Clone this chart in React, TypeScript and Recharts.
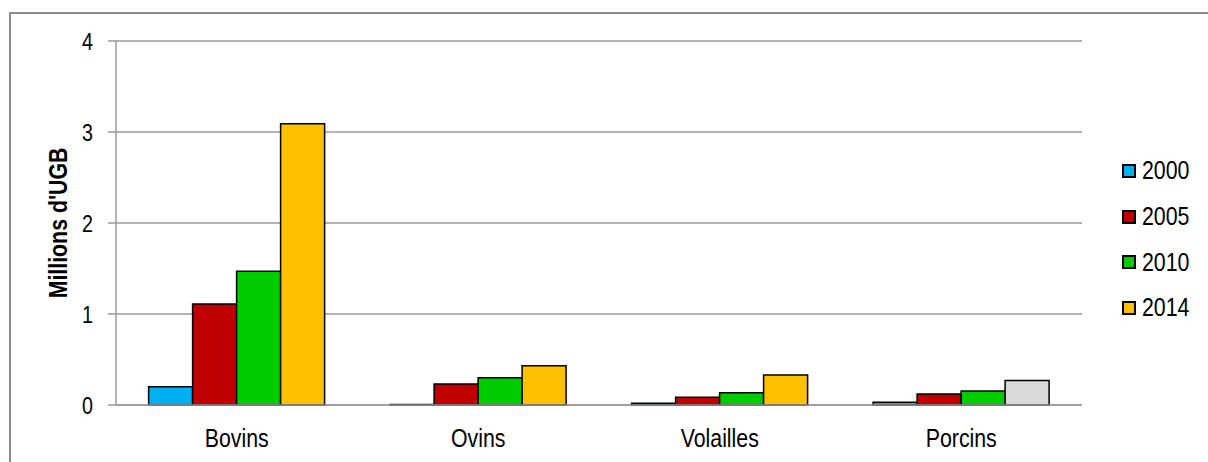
import { Bar, BarChart, CartesianGrid, Cell, Label, Legend, XAxis, YAxis } from 'recharts';

const categories = ['Bovins', 'Ovins', 'Volailles', 'Porcins'];
const years = ['2000', '2005', '2010', '2014'];
const values2000 = [0.2, 0.005, 0.02, 0.03];
const values2005 = [1.11, 0.23, 0.085, 0.12];
const values2010 = [1.47, 0.3, 0.135, 0.155];
const values2014 = [3.09, 0.43, 0.33, 0.27];
const yTicks = [0, 1, 2, 3, 4];

const seriesValues = [values2000, values2005, values2010, values2014];
const colors = ['#00B0F0', '#C00000', '#00CC00', '#FFC000'];
// Porcins 2014 is drawn grey in the original
const overrideColors: Record<string, string> = { 'Porcins-2014': '#D9D9D9' };

const FONT = "'Liberation Sans', Arial, sans-serif";
// no narrow font installed, so squeeze the regular one
const NARROW = 0.82;
const GRID = '#999999';

const data = categories.map((name, i) => {
  const row: Record<string, string | number> = { name };
  years.forEach((y, s) => {
    row[y] = seriesValues[s][i];
  });
  return row;
});

function XTick({ x, y, payload }: any) {
  return (
    <text
      transform={`translate(${x}, ${y + 42}) scale(${NARROW}, 1)`}
      textAnchor="middle"
      style={{ fontFamily: FONT, fontSize: 26, fill: '#000' }}
    >
      {payload.value}
    </text>
  );
}

function YTick({ x, y, payload }: any) {
  return (
    <text
      transform={`translate(${x}, ${y + 9}) scale(${NARROW}, 1)`}
      textAnchor="end"
      style={{ fontFamily: FONT, fontSize: 24, fill: '#000' }}
    >
      {payload.value}
    </text>
  );
}

function YLabel({ viewBox }: any) {
  const cx = 58;
  const cy = viewBox.y + viewBox.height / 2;
  return (
    <text
      transform={`translate(${cx}, ${cy}) rotate(-90) scale(${NARROW}, 1)`}
      textAnchor="middle"
      dominantBaseline="central"
      style={{ fontFamily: FONT, fontSize: 26, fontWeight: 'bold', fill: '#000' }}
    >
      Millions d'UGB
    </text>
  );
}

function LegendBox() {
  return (
    <div style={{ fontFamily: FONT, fontSize: 26, color: '#000' }}>
      {years.map((y, s) => (
        <div key={y} style={{ display: 'flex', alignItems: 'center', height: 45.7 }}>
          <span
            style={{
              display: 'inline-block',
              width: 10,
              height: 10,
              background: colors[s],
              border: '2px solid #000',
              marginRight: 6
            }}
          />
          <span
            style={{
              display: 'inline-block',
              transform: `scaleX(${NARROW})`,
              transformOrigin: 'left center'
            }}
          >
            {y}
          </span>
        </div>
      ))}
    </div>
  );
}

export default function App() {
  return (
    <div
      style={{
        position: 'fixed',
        left: 0,
        top: 0,
        width: 1208,
        height: 462,
        overflow: 'hidden',
        background: '#fff'
      }}
    >
      <div
        style={{
          position: 'absolute',
          left: 9,
          top: 12,
          width: 1300,
          height: 500,
          borderLeft: '2px solid #8c8c8c',
          borderTop: '2px solid #8c8c8c'
        }}
      />
      <BarChart
        width={1208}
        height={462}
        data={data}
        margin={{ top: 41, right: 126, bottom: 17, left: 56 }}
        barCategoryGap="13.5%"
        barGap={0}
        style={{ position: 'absolute', left: 0, top: 0 }}
      >
        <CartesianGrid vertical={false} stroke={GRID} strokeWidth={1.5} />
        <XAxis
          dataKey="name"
          height={40}
          tickLine={false}
          tickSize={0}
          tickMargin={0}
          axisLine={{ stroke: GRID, strokeWidth: 1.5 }}
          tick={<XTick />}
        />
        <YAxis
          width={60}
          domain={[0, 4]}
          ticks={yTicks}
          interval={0}
          tickSize={8}
          tickMargin={15}
          axisLine={{ stroke: GRID, strokeWidth: 1.5 }}
          tickLine={{ stroke: GRID, strokeWidth: 1.5 }}
          tick={<YTick />}
        >
          <Label content={<YLabel />} />
        </YAxis>
        <Legend
          layout="horizontal"
          verticalAlign="middle"
          content={() => <LegendBox />}
          wrapperStyle={{ position: 'absolute', left: 1122, top: 148, width: 90 }}
        />
        {years.map((y, s) => (
          <Bar
            key={y}
            dataKey={y}
            fill={colors[s]}
            stroke="#000"
            strokeWidth={1.5}
            isAnimationActive={false}
          >
            {categories.map((c) => (
              <Cell key={c} fill={overrideColors[`${c}-${y}`] ?? colors[s]} />
            ))}
          </Bar>
        ))}
      </BarChart>
    </div>
  );
}
